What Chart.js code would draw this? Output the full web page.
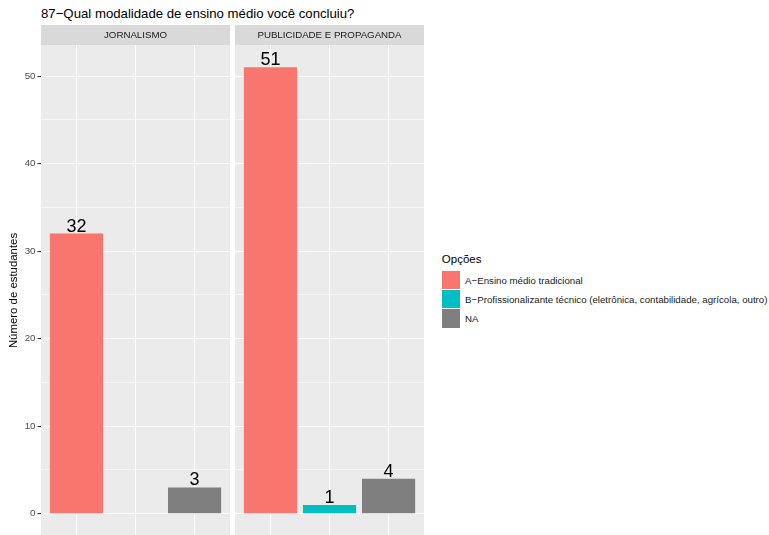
<!DOCTYPE html>
<html>
<head>
<meta charset="utf-8">
<script src="https://cdn.jsdelivr.net/npm/chart.js@4/dist/chart.umd.min.js"></script>
<style>
  html, body { margin: 0; padding: 0; background: #fff; }
  #wrap { position: relative; width: 769px; height: 535px; overflow: hidden; font-family: "Liberation Sans", Arial, sans-serif; }
  canvas { position: absolute; top: 0; }
  #title { position: absolute; left: 41px; top: 7px; font-size: 13.2px; line-height: 13.2px; color: #000; white-space: nowrap; }
  #legend { position: absolute; left: 441.8px; top: 253.5px; }
  #legend .lt { font-size: 11.5px; line-height: 11.5px; color: #000; height: 17.2px; }
  #legend .row { display: flex; align-items: center; height: 19.1px; }
  #legend .key { width: 18.3px; height: 18.3px; }
  #legend .lab { margin-left: 5px; font-size: 9.7px; color: #1a1a1a; white-space: nowrap; }
</style>
</head>
<body>
<div id="wrap">
  <div id="title">87−Qual modalidade de ensino médio você concluiu?</div>
  <canvas id="c1" width="230" height="536" style="left:0px"></canvas>
  <canvas id="c2" width="189" height="536" style="left:235px"></canvas>
  <div id="legend"></div>
</div>
<script>
// ---- data ----
const panels = ["JORNALISMO", "PUBLICIDADE E PROPAGANDA"];
const options = ["A−Ensino médio tradicional",
                 "B−Profissionalizante técnico (eletrônica, contabilidade, agrícola, outro)",
                 "NA"];
const jornalismo  = [32, null, 3];
const publicidade = [51, 1, 4];
const yTicks = [0, 10, 20, 30, 40, 50];
const yTitle = "Número de estudantes";
const legendTitle = "Opções";
const colors = ["#F8766D", "#00BFC4", "#7F7F7F"];

const FONT = '"Liberation Sans", Arial, sans-serif';
const yMin = -2.55, yMax = 53.55;

const panelPlugin = {
  id: 'panelBg',
  beforeDraw(chart, args, opts) {
    const {ctx, chartArea: a} = chart;
    ctx.save();
    ctx.fillStyle = '#EBEBEB';
    ctx.fillRect(a.left, a.top, a.right - a.left, a.bottom - a.top);
    ctx.fillStyle = '#D9D9D9';
    ctx.fillRect(a.left, a.top - 20, a.right - a.left, 20);
    ctx.fillStyle = '#1A1A1A';
    ctx.font = '9.7px ' + FONT;
    ctx.textAlign = 'center';
    ctx.textBaseline = 'middle';
    ctx.fillText(opts.strip, (a.left + a.right) / 2, a.top - 10);
    ctx.restore();
  },
  afterDatasetsDraw(chart) {
    const {ctx} = chart;
    ctx.save();
    ctx.fillStyle = '#000';
    ctx.font = '18px ' + FONT;
    ctx.textAlign = 'center';
    ctx.textBaseline = 'alphabetic';
    chart.data.datasets.forEach((ds, i) => {
      const meta = chart.getDatasetMeta(i);
      meta.data.forEach((el, j) => {
        const v = ds.data[j].y;
        if (v === null || v === undefined) return;
        ctx.fillText(String(v), el.x, el.y - 2);
      });
    });
    ctx.restore();
  }
};

function makeChart(id, values, strip, showY) {
  const datasets = options.map((o, i) => ({
    label: o,
    data: [{x: i + 1, y: values[i]}],
    backgroundColor: colors[i],
    borderWidth: 0
  }));
  return new Chart(document.getElementById(id), {
    type: 'bar',
    data: { datasets },
    plugins: [panelPlugin],
    options: {
      responsive: false,
      animation: false,
      devicePixelRatio: 1,
      grouped: false,
      barPercentage: 0.9,
      categoryPercentage: 1,
      layout: { autoPadding: false, padding: { top: 45, bottom: 0, left: 0, right: 0 } },
      plugins: { legend: { display: false }, tooltip: { enabled: false }, panelBg: { strip } },
      scales: {
        x: {
          type: 'linear', min: 0.4, max: 3.6, offset: false,
          afterBuildTicks: s => { s.ticks = [1, 2, 3].map(v => ({value: v})); },
          afterFit: s => { s.height = 0; s.paddingLeft = 0; s.paddingRight = 0; },
          ticks: { display: false },
          grid: { color: '#FFFFFF', lineWidth: 1.07, drawTicks: false, offset: false },
          border: { display: false }
        },
        y: {
          type: 'linear', min: yMin, max: yMax,
          afterBuildTicks: s => {
            const t = [];
            yTicks.forEach((v, k) => { t.push({value: v}); if (k < yTicks.length - 1) t.push({value: v + 5}); });
            s.ticks = t;
          },
          afterFit: s => { s.width = showY ? 41 : 0; s.paddingTop = 0; s.paddingBottom = 0; },
          ticks: {
            display: showY,
            color: '#4D4D4D',
            font: { size: 9.7, family: FONT },
            padding: 2,
            callback: (v) => yTicks.includes(v) ? String(v) : ''
          },
          grid: {
            color: '#FFFFFF',
            lineWidth: c => (c.tick && yTicks.includes(c.tick.value)) ? 1.07 : 0.53,
            drawTicks: showY,
            tickLength: 3.5,
            tickWidth: 1.07,
            tickColor: c => (c.tick && yTicks.includes(c.tick.value)) ? '#333333' : 'rgba(0,0,0,0)'
          },
          border: { display: false },
          title: {
            display: showY, text: yTitle, color: '#000',
            font: { size: 11.4, family: FONT },
            padding: { top: 7, bottom: 0 }
          }
        }
      }
    }
  });
}

makeChart('c1', jornalismo, panels[0], true);
makeChart('c2', publicidade, panels[1], false);

// legend
const lg = document.getElementById('legend');
const lt = document.createElement('div'); lt.className = 'lt'; lt.textContent = legendTitle; lg.appendChild(lt);
options.forEach((o, i) => {
  const r = document.createElement('div'); r.className = 'row';
  const k = document.createElement('div'); k.className = 'key'; k.style.background = colors[i];
  const l = document.createElement('div'); l.className = 'lab'; l.textContent = o;
  r.appendChild(k); r.appendChild(l); lg.appendChild(r);
});
</script>
</body>
</html>
